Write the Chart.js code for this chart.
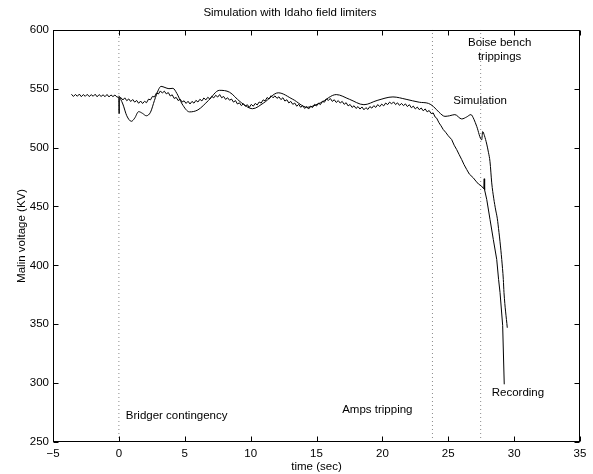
<!DOCTYPE html>
<html>
<head>
<meta charset="utf-8">
<title>Simulation with Idaho field limiters</title>
<script src="https://cdn.jsdelivr.net/npm/chart.js@4.4.0/dist/chart.umd.min.js"></script>
<style>
  html, body { margin: 0; padding: 0; background: #fff; }
  #myChart { display: block; }
</style>
</head>
<body>
<canvas id="myChart" width="593" height="474"></canvas>
<script>
// Axis ticks
const xTicks = [-5, 0, 5, 10, 15, 20, 25, 30, 35];
const yTicks = [250, 300, 350, 400, 450, 500, 550, 600];

// Event times (dotted vertical lines)
const eventTimes = [0, 23.8, 27.46];

// Recording (measured voltage, kV)
const recTime = [
  -3.6, -3.45, -3.3, -3.15, -3, -2.85, -2.7, -2.55, -2.4, -2.25, -2.1, -1.95,
  -1.8, -1.65, -1.5, -1.35, -1.2, -1.05, -0.9, -0.75, -0.6, -0.45, -0.3, -0.15,
  0, 0.01, 0.03,
  0.15, 0.3, 0.45, 0.6, 0.75, 0.9, 1.05, 1.2, 1.35, 1.5, 1.65, 1.8, 1.95, 2.1, 2.25, 2.4,
  2.55, 2.7, 2.85, 3, 3.15, 3.3, 3.45, 3.6, 3.75, 3.9, 4.05, 4.2, 4.35, 4.5, 4.65, 4.8,
  4.95, 5.1, 5.25, 5.4, 5.55, 5.7, 5.85, 6, 6.15, 6.3, 6.45, 6.6, 6.75, 6.9, 7.05, 7.2,
  7.35, 7.5, 7.65, 7.8, 7.95, 8.1, 8.25, 8.4, 8.55, 8.7, 8.85, 9, 9.15, 9.3, 9.45, 9.6,
  9.75, 9.9, 10.05, 10.2, 10.35, 10.5, 10.65, 10.8, 10.95, 11.1, 11.25, 11.4, 11.55, 11.7,
  11.85, 12, 12.15, 12.3, 12.45, 12.6, 12.75, 12.9, 13.05, 13.2, 13.35, 13.5, 13.65, 13.8,
  13.95, 14.1, 14.25, 14.4, 14.55, 14.7, 14.85, 15, 15.15, 15.3, 15.45, 15.6, 15.75, 15.9,
  16.05, 16.2, 16.35, 16.5, 16.65, 16.8, 16.95, 17.1, 17.25, 17.4, 17.55, 17.7, 17.85, 18,
  18.15, 18.3, 18.45, 18.6, 18.75, 18.9, 19.05, 19.2, 19.35, 19.5, 19.65, 19.8, 19.95, 20.1,
  20.25, 20.4, 20.55, 20.7, 20.85, 21, 21.15, 21.3, 21.45, 21.6, 21.75, 21.9, 22.05, 22.2,
  22.35, 22.5, 22.65, 22.8, 22.95, 23.1, 23.25, 23.4, 23.55, 23.7,
  23.86, 24, 24.12, 24.3, 24.45, 24.62, 24.8, 25, 25.26, 25.45, 25.64, 25.83, 26.02, 26.2,
  26.4, 26.6, 26.9, 27.1, 27.3, 27.5, 27.7, 27.73, 27.76, 27.92, 28.17, 28.42, 28.68, 28.82,
  28.93, 29.13, 29.25
];
const recVolt = [
  545.3, 543.4, 545.1, 543.6, 545.4, 543.2, 545.0, 543.5, 545.2, 543.3, 544.9, 543.6,
  545.3, 543.1, 545.0, 543.4, 544.8, 543.2, 545.1, 543.0, 544.7, 543.3, 544.6, 543.0,
  542.6, 529.0, 541.8,
  542.5, 540.4, 542.2, 539.8, 541.3, 539.1, 540.8, 538.6, 540.0, 537.6, 539.5, 537.4, 539.3, 538.1, 541.1, 540.5,
  543.5, 542.9, 546.3, 545.5, 548.1, 546.3, 547.9, 545.6, 546.7, 543.8, 544.8, 541.7, 542.6, 539.9, 541.1, 538.7,
  539.7, 537.5, 539.3, 537.0, 539.2, 537.7, 540.1, 538.7, 541.0, 539.6, 542.1, 540.5, 542.7, 541.2, 543.5, 542.2,
  544.4, 542.9, 545.0, 542.3, 543.4, 540.9, 542.3, 540.2, 541.2, 538.6, 539.9, 537.0, 538.0, 535.6, 537.2, 535.1,
  536.4, 534.1, 536.7, 535.1, 537.5, 536.2, 538.7, 537.8, 540.5, 539.6, 542.5, 541.3, 544.0, 542.3,
  543.9, 541.8, 543.1, 540.7, 542.3, 539.5, 540.6, 537.9, 539.2, 536.7, 537.8, 535.1, 536.7, 534.2,
  535.6, 533.2, 534.8, 532.7, 535.2, 534.0, 536.7, 535.3, 537.7, 536.5, 539.3, 538.5, 541.2, 540.1,
  541.7, 539.2, 540.6, 538.3, 539.9, 537.8, 539.2, 536.7, 538.1, 535.4, 536.6, 534.1, 535.5, 533.2,
  534.8, 532.7, 534.5, 532.1, 533.9, 532.4, 534.8, 533.5, 535.6, 534.1, 536.5, 534.8, 536.9, 535.4,
  537.8, 536.5, 538.6, 537.1, 538.8, 536.5, 538.0, 535.8, 537.5, 535.6, 537.1, 534.8, 536.4, 533.8,
  535.2, 532.8, 534.4, 532.2, 533.6, 531.2, 532.8, 530.3, 531.5, 528.9,
  529.4, 526.0, 525.0, 521.0, 518.5, 515.3, 513.0, 510.0, 506.8, 502.0, 498.3, 494.0, 489.8, 485.5,
  481.4, 477.5, 474.3, 471.5, 469.0, 467.5, 465.0, 473.5, 464.0, 456.0, 439.0, 422.0, 405.0, 388.0,
  377.0, 349.0, 299.0
];

// Simulation (kV)
const simTime = [
  0, 0.3, 0.6, 0.95, 1.2, 1.5, 1.8, 2.08, 2.4, 2.7, 3, 3.2, 3.5, 3.8, 4.1, 4.4, 4.8, 5.36,
  6, 6.8, 7.63, 8.4, 9.2, 10.15, 11, 12.1, 13.2, 14.3, 15.3, 16.5, 17.5, 18.6, 19.6, 20.8,
  21.8, 22.8, 23.5, 23.86, 24.3, 24.75, 25.1, 25.5, 26.02, 26.4, 26.72, 26.95, 27.16, 27.54,
  27.61, 27.75, 27.92, 28.05, 28.17, 28.3, 28.45, 28.6, 28.72, 28.85, 28.93, 29.06, 29.18,
  29.23, 29.48
];
const simVolt = [
  544, 537, 527, 522.3, 525, 530.5, 529, 527, 530, 540, 549, 552, 551, 550, 550.3, 546, 537, 530.3,
  532, 540, 548.6, 547, 539, 533, 538, 546.5, 541, 534.2, 538, 545, 541, 536.4, 540, 543,
  541, 538.5, 537.5, 535, 530, 526.5, 527, 528, 524.3, 526, 528, 524, 518, 506.6,
  513.6, 510, 503, 496, 488, 470, 457, 447, 440, 428, 420, 405, 388,
  377, 347
];

// Text notes placed in data coordinates
const notes = [
  { text: 'Bridger contingency', x: 0.53, y: 272, align: 'left' },
  { text: 'Amps tripping', x: 16.95, y: 277.7, align: 'left' },
  { text: 'Boise bench', x: 28.9, y: 588.7, align: 'center' },
  { text: 'trippings', x: 28.9, y: 576.8, align: 'center' },
  { text: 'Simulation', x: 25.38, y: 540, align: 'left' },
  { text: 'Recording', x: 28.3, y: 292, align: 'left' }
];

const FONT = "'Liberation Sans', Arial, Helvetica, sans-serif";
const font = { family: FONT, size: 11.5, weight: 'normal' };

function toPoints(xs, ys) {
  return xs.map((t, i) => ({ x: t, y: ys[i] }));
}

// Frame with inward tick marks on all four sides (matlab look)
const framePlugin = {
  id: 'frame',
  afterDatasetsDraw(chart) {
    const { ctx, chartArea: a, scales: { x, y } } = chart;
    const L = Math.round(a.left) + 0.5, R = Math.round(a.right) - 0.5;
    const T = Math.round(a.top) + 0.5, B = Math.round(a.bottom) - 0.5;
    ctx.save();
    ctx.strokeStyle = '#000';
    ctx.lineWidth = 1;
    ctx.strokeRect(L, T, R - L, B - T);
    ctx.beginPath();
    x.ticks.forEach(t => {
      const px = Math.round(x.getPixelForValue(t.value)) + 0.5;
      ctx.moveTo(px, B); ctx.lineTo(px, B - 5);
      ctx.moveTo(px, T); ctx.lineTo(px, T + 5);
    });
    y.ticks.forEach(t => {
      const py = Math.round(y.getPixelForValue(t.value)) + 0.5;
      ctx.moveTo(L, py); ctx.lineTo(L + 5, py);
      ctx.moveTo(R, py); ctx.lineTo(R - 5, py);
    });
    ctx.stroke();
    ctx.restore();
  }
};

const notesPlugin = {
  id: 'notes',
  afterDatasetsDraw(chart) {
    const { ctx, scales: { x, y } } = chart;
    ctx.save();
    ctx.fillStyle = '#000';
    ctx.font = font.size + 'px ' + FONT;
    ctx.textBaseline = 'middle';
    notes.forEach(n => {
      ctx.textAlign = n.align;
      ctx.fillText(n.text, x.getPixelForValue(n.x), y.getPixelForValue(n.y));
    });
    ctx.restore();
  }
};

const eventSets = eventTimes.map(t => ({
  data: [{ x: t, y: 250 }, { x: t, y: 600 }],
  borderColor: '#8a8a8a',
  borderWidth: 1,
  borderDash: [1, 3],
  pointRadius: 0,
  order: 5
}));

const config = {
  type: 'line',
  data: {
    datasets: [
      {
        label: 'Recording',
        data: toPoints(recTime, recVolt),
        borderColor: '#000',
        borderWidth: 1,
        pointRadius: 0,
        tension: 0,
        order: 1
      },
      {
        label: 'Simulation',
        data: toPoints(simTime, simVolt),
        borderColor: '#000',
        borderWidth: 1,
        pointRadius: 0,
        cubicInterpolationMode: 'monotone',
        order: 1
      },
      ...eventSets
    ]
  },
  options: {
    responsive: false,
    animation: false,
    layout: { padding: { top: 0, right: 13, bottom: 0, left: 0 } },
    plugins: {
      legend: { display: false },
      tooltip: { enabled: false },
      title: {
        display: true,
        text: 'Simulation with Idaho field limiters',
        color: '#000',
        font: font,
        padding: { top: 6, bottom: 10 }
      }
    },
    scales: {
      x: {
        type: 'linear',
        min: -5,
        max: 35,
        afterBuildTicks: s => { s.ticks = xTicks.map(v => ({ value: v })); },
        afterFit: s => { s.height = 32; },
        grid: { display: false, drawTicks: false },
        border: { display: false },
        ticks: {
          color: '#000',
          font: font,
          padding: 5,
          maxRotation: 0,
          autoSkip: false,
          callback: v => (v < 0 ? '\u2212' + Math.abs(v) : String(v))
        },
        title: {
          display: true,
          text: 'time (sec)',
          color: '#000',
          font: font,
          padding: { top: 0, bottom: 0 }
        }
      },
      y: {
        min: 250,
        max: 600,
        afterBuildTicks: s => { s.ticks = yTicks.map(v => ({ value: v })); },
        afterFit: s => { s.width = 53; },
        grid: { display: false, drawTicks: false },
        border: { display: false },
        ticks: {
          color: '#000',
          font: font,
          padding: 4,
          autoSkip: false
        },
        title: {
          display: true,
          text: 'Malin voltage (KV)',
          color: '#000',
          font: font,
          padding: { top: 15, bottom: 0 }
        }
      }
    }
  },
  plugins: [framePlugin, notesPlugin]
};

window.myChart = new Chart(document.getElementById('myChart'), config);
</script>
</body>
</html>
